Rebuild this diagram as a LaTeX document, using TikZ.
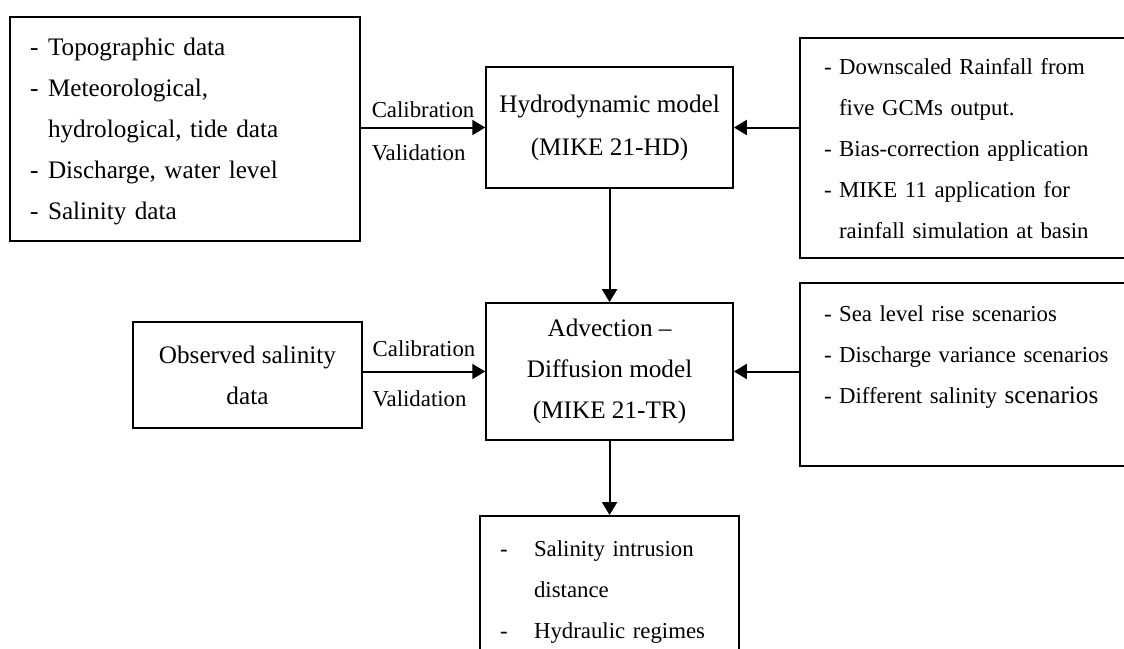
\documentclass[tikz,border=0pt]{standalone}
\usepackage{fontspec}
\setmainfont{Liberation Serif}
\usetikzlibrary{arrows.meta}
\newcommand{\bigtxt}{\fontsize{12.6}{20.5}\selectfont}
\newcommand{\smalltxt}{\fontsize{11.4}{20.5}\selectfont}
\tikzset{
  modelbox/.style={draw, line width=0.8pt, align=center, font=\bigtxt, inner sep=0pt},
  listbox/.style={draw, line width=0.8pt, align=left, inner xsep=10pt, inner ysep=0pt},
  flow/.style={line width=1pt, -{Triangle[length=6.5pt,width=7.5pt]}},
  calib/.style={align=left, font=\smalltxt, inner sep=0pt}
}

\begin{document}
\begin{tikzpicture}[x=1in,y=1in]
\useasboundingbox (0,0) rectangle (7.776,-4.483);
% input data and models
\node[listbox, font=\bigtxt, text width=155pt, minimum height=112pt] (indata) at (1.280,-0.893)
  {\begin{tabular}{@{}p{9pt}@{}l@{}}
  - & Topographic data\\
  - & Meteorological,\\
    & hydrological, tide data\\
  - & Discharge, water level\\
  - & Salinity data
  \end{tabular}};
\node[modelbox, minimum width=123.5pt, minimum height=60.5pt] (hydro) at (4.217,-0.882)
  {Hydrodynamic model\\[1pt](MIKE 21-HD)};
\node[listbox, font=\smalltxt, inner xsep=12pt, text width=151pt, minimum height=110pt] (climate) at (6.746,-1.024)
  {\begin{tabular}{@{}p{7.5pt}@{}l@{}}
  - & Downscaled Rainfall from\\
    & five GCMs output.\\
  - & Bias-correction application\\
  - & MIKE 11 application for\\
    & rainfall simulation at basin
  \end{tabular}};
\node[modelbox, minimum width=123.5pt, minimum height=68.5pt] (adv) at (4.217,-2.570)
  {Advection \textendash\\Diffusion model\\(MIKE 21-TR)};
\node[modelbox, minimum width=114.5pt, minimum height=53pt] (obs) at (1.712,-2.595)
  {Observed salinity\\data};
\node[listbox, font=\smalltxt, inner xsep=12pt, text width=151pt, minimum height=91.5pt] (scen) at (6.746,-2.591)
  {\begin{tabular}{@{}p{7.5pt}@{}l@{}}
  - & Sea level rise scenarios\\
  - & Discharge variance scenarios\\
  - & Different salinity {\bigtxt scenarios}\\
    &
  \end{tabular}};
\node[listbox, font=\smalltxt, text width=109.5pt, minimum height=73pt, anchor=north] (result) at (4.217,-3.563)
  {\begin{tabular}{@{}p{17pt}@{}l@{}}
  - & Salinity intrusion\\
    & distance\\
  - & Hydraulic regimes
  \end{tabular}};
% connectors
\draw[flow] (indata.east |- hydro) -- (hydro.west)
  node[calib, midway, yshift=-1.75pt] {Calibration\\[1pt]Validation};
\draw[flow] (climate.west |- hydro) -- (hydro.east);
\draw[flow] (hydro.south) -- (adv.north);
\draw[flow] (obs.east |- adv) -- (adv.west)
  node[calib, midway, yshift=-1pt] {Calibration\\[4.5pt]Validation};
\draw[flow] (scen.west |- adv) -- (adv.east);
\draw[flow] (adv.south) -- (result.north);
\end{tikzpicture}
\end{document}
